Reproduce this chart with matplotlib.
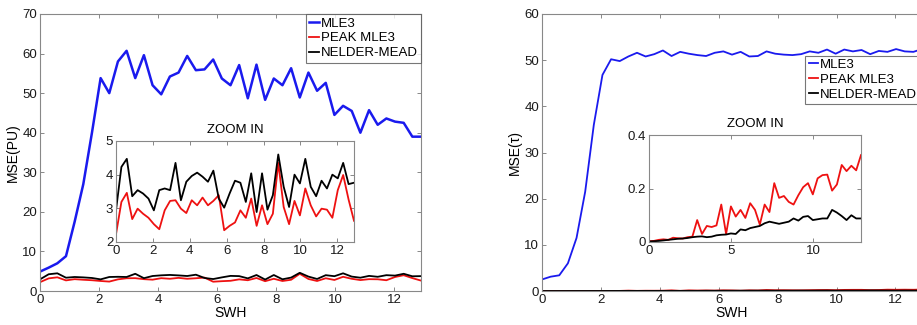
import numpy as np
import matplotlib
matplotlib.use("Agg")
import matplotlib.pyplot as plt

plt.rcParams['font.family'] = ['Liberation Sans', 'DejaVu Sans']

# ---- data ----
swh = np.linspace(0, 12.9, 45)

mle3_pu = [4.9, 5.9, 7.0, 8.8, 17.5, 27.0, 40.0, 53.8, 50.0, 58.0, 60.7, 53.8, 59.6,
           52.0, 49.7, 54.2, 55.2, 59.4, 55.8, 56.0, 58.5, 53.7, 52.0, 57.1, 48.7,
           57.2, 48.3, 53.7, 52.0, 56.3, 48.9, 55.2, 50.6, 52.6, 44.5, 46.8, 45.5,
           40.0, 45.7, 42.0, 43.6, 42.8, 42.5, 39.0, 39.0]
peak_pu = [2.23, 3.19, 3.46, 2.68, 2.99, 2.84, 2.72, 2.53, 2.38, 2.94, 3.22, 3.24,
           2.99, 2.86, 3.24, 3.09, 3.32, 3.09, 3.22, 3.39, 2.35, 2.48, 2.58, 2.94,
           2.72, 3.29, 2.48, 3.09, 2.53, 2.84, 4.35, 3.04, 2.53, 3.22, 2.79, 3.59,
           3.09, 2.76, 2.99, 2.96, 2.72, 3.54, 3.99, 3.26, 2.63]
nm_pu = [2.94, 4.23, 4.47, 3.36, 3.54, 3.44, 3.29, 2.94, 3.54, 3.59, 3.54, 4.35,
         3.24, 3.79, 3.96, 4.06, 3.94, 3.79, 4.12, 3.29, 3.02, 3.44, 3.82, 3.76,
         3.19, 4.04, 2.89, 4.04, 2.96, 3.39, 4.60, 3.64, 3.04, 4.00, 3.74, 4.47,
         3.64, 3.36, 3.82, 3.59, 4.00, 3.89, 4.35, 3.72, 3.76]

mle3_tau = [2.5, 3.1, 3.4, 6.0, 11.5, 21.5, 36.0, 46.8, 50.2, 49.8, 50.8, 51.6,
            50.8, 51.3, 52.1, 50.9, 51.8, 51.4, 51.1, 50.9, 51.6, 51.9, 51.2, 51.8,
            50.8, 50.9, 51.9, 51.4, 51.2, 51.1, 51.3, 51.9, 51.6, 52.3, 51.4, 52.3,
            51.9, 52.2, 51.3, 52.0, 51.8, 52.4, 51.9, 51.8, 52.4]
peak_tau = [0.003, 0.004, 0.008, 0.010, 0.008, 0.016, 0.014, 0.013, 0.018, 0.020,
            0.082, 0.030, 0.060, 0.056, 0.062, 0.140, 0.030, 0.133, 0.095, 0.120,
            0.090, 0.145, 0.120, 0.065, 0.140, 0.112, 0.220, 0.165, 0.172, 0.150,
            0.140, 0.175, 0.205, 0.220, 0.178, 0.238, 0.250, 0.252, 0.192, 0.215,
            0.288, 0.265, 0.285, 0.268, 0.325]
nm_tau = [0.002, 0.003, 0.004, 0.006, 0.008, 0.010, 0.012, 0.013, 0.015, 0.018,
          0.020, 0.021, 0.018, 0.020, 0.025, 0.027, 0.028, 0.032, 0.030, 0.047,
          0.044, 0.052, 0.056, 0.060, 0.070, 0.076, 0.072, 0.068, 0.072, 0.076,
          0.088, 0.080, 0.094, 0.097, 0.082, 0.085, 0.088, 0.088, 0.120, 0.110,
          0.097, 0.082, 0.100, 0.088, 0.088]

series_names = ['MLE3', 'PEAK MLE3', 'NELDER-MEAD']
colors = ['#1a1aee', '#ee1111', '#000000']

FS = 9.5
W, H = 917, 325
fig = plt.figure(figsize=(W / 100, H / 100), dpi=100)


def rect(x0, y0, x1, y1):
    return [x0 / W, 1 - y1 / H, (x1 - x0) / W, (y1 - y0) / H]


def style(ax, fs=FS):
    for s in ax.spines.values():
        s.set_color('#888888')
        s.set_linewidth(0.8)
    ax.tick_params(direction='in', top=True, right=True, labelsize=fs,
                   color='#888888', length=3, width=0.7, pad=2, labelcolor='#1a1a1a')


def legend(ax, **kw):
    leg = ax.legend(fontsize=FS, handlelength=0.7, handletextpad=0.15,
                    borderaxespad=0.0, frameon=True, fancybox=False, borderpad=0.25,
                    labelspacing=0.2, **kw)
    leg.get_frame().set_edgecolor('#555555')
    leg.get_frame().set_linewidth(0.8)
    return leg


# left main
ax1 = fig.add_axes(rect(40, 14, 421, 291))
ax1.plot(swh, mle3_pu, color=colors[0], lw=1.8, label=series_names[0])
ax1.plot(swh, peak_pu, color=colors[1], lw=1.3, label=series_names[1])
ax1.plot(swh, nm_pu, color=colors[2], lw=1.3, label=series_names[2])
ax1.set_xlim(0, 12.9)
ax1.set_ylim(0, 70)
ax1.set_xticks(np.arange(0, 13, 2))
ax1.set_yticks(np.arange(0, 71, 10))
ax1.set_xlabel('SWH', fontsize=FS + 0.5, labelpad=0)
ax1.set_ylabel('MSE(PU)', fontsize=FS + 0.5, labelpad=2)
style(ax1)
legend(ax1, loc='upper right')

# left inset
ax1i = fig.add_axes(rect(116, 141, 354, 242))
ax1i.plot(swh, peak_pu, color=colors[1], lw=1.3)
ax1i.plot(swh, nm_pu, color=colors[2], lw=1.3)
ax1i.set_xlim(0, 12.9)
ax1i.set_ylim(2, 5)
ax1i.set_xticks(np.arange(0, 13, 2))
ax1i.set_yticks([2, 3, 4, 5])
ax1i.set_title('ZOOM IN', fontsize=FS, pad=6)
style(ax1i)

# right main
ax2 = fig.add_axes(rect(542, 14, 922, 291))
ax2.plot(swh, mle3_tau, color=colors[0], lw=1.3, label=series_names[0])
ax2.plot(swh, peak_tau, color=colors[1], lw=1.3, label=series_names[1])
ax2.plot(swh, nm_tau, color=colors[2], lw=1.3, label=series_names[2])
ax2.set_xlim(0, 12.9)
ax2.set_ylim(0, 60)
ax2.set_xticks(np.arange(0, 13, 2))
ax2.set_yticks(np.arange(0, 61, 10))
ax2.set_xlabel('SWH', fontsize=FS + 0.5, labelpad=0)
ax2.set_ylabel('MSE(τ)', fontsize=FS + 0.5, labelpad=2)
style(ax2)
legend(ax2, loc='upper right', bbox_to_anchor=(0.995, 0.85))

# right inset
ax2i = fig.add_axes(rect(649, 135, 861, 242))
ax2i.plot(swh, peak_tau, color=colors[1], lw=1.3)
ax2i.plot(swh, nm_tau, color=colors[2], lw=1.3)
ax2i.set_xlim(0, 12.9)
ax2i.set_ylim(0, 0.4)
ax2i.set_xticks([0, 5, 10])
ax2i.set_yticks([0, 0.2, 0.4])
ax2i.set_yticklabels(['0', '0.2', '0.4'])
ax2i.set_title('ZOOM IN', fontsize=FS, pad=6)
style(ax2i)

fig.savefig('out.png', dpi=100)
